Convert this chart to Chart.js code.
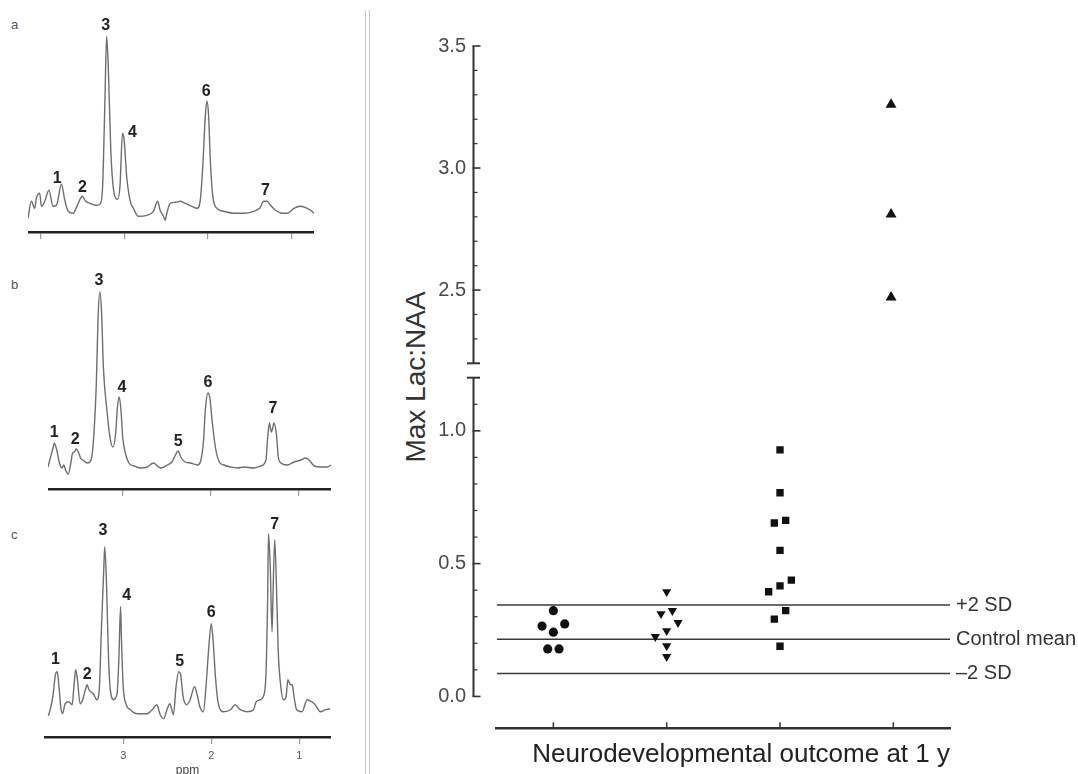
<!DOCTYPE html>
<html>
<head>
<meta charset="utf-8">
<script src="https://cdn.jsdelivr.net/npm/chart.js@4.4.1/dist/chart.umd.min.js"></script>
<style>
  body { margin: 0; background: #fff; width: 1078px; height: 774px; position: relative; overflow: hidden;
         font-family: "Liberation Sans", Arial, sans-serif; }
  canvas { position: absolute; }
  .panel { position: absolute; color: #555; font-size: 13px; line-height: 16px; }
  .divider { position: absolute; top: 10px; bottom: 0; width: 0; border-left: 1.5px solid #c6c6c6; }
  #ytitle { position: absolute; left: 266px; top: 361px; width: 300px; height: 32px; line-height: 32px;
            text-align: center; font-size: 28px; color: #333; transform: rotate(-90deg); }
</style>
</head>
<body>
<div class="panel" style="left:11px;top:17px">a</div>
<div class="panel" style="left:11px;top:277px">b</div>
<div class="panel" style="left:11px;top:527px">c</div>
<canvas id="specA" width="286" height="234" style="left:28px;top:10px"></canvas>
<canvas id="specB" width="283" height="243" style="left:48px;top:258px"></canvas>
<canvas id="specC" width="287" height="269" style="left:44px;top:505px"></canvas>
<div class="divider" style="left:365px"></div>
<div class="divider" style="left:369px"></div>
<div id="ytitle">Max Lac:NAA</div>
<canvas id="upper" width="706" height="340" style="left:372px;top:30px"></canvas>
<canvas id="lower" width="706" height="404" style="left:372px;top:370px"></canvas>
<script>
// ---- spectra (ppm, intensity in arbitrary units) ----
const specAPpm = [4.15,4.11,4.07,4.05,4.01,3.99,3.95,3.90,3.85,3.81,3.75,3.71,3.67,3.61,3.56,3.50,3.46,3.41,3.33,3.29,3.26,3.23,3.21,3.19,3.16,3.12,3.08,3.05,3.02,3.00,2.97,2.93,2.89,2.83,2.73,2.65,2.60,2.57,2.53,2.51,2.49,2.45,2.39,2.33,2.27,2.19,2.13,2.09,2.06,2.03,2.01,1.99,1.97,1.94,1.89,1.81,1.69,1.57,1.45,1.38,1.33,1.29,1.25,1.19,1.11,1.05,0.97,0.89,0.81,0.77,0.73];
const specAInt = [-5,12,5,15,20,7,12,23,7,8,29,13,2,0,8,17,12,10,8,9,23,113,177,147,63,20,14,27,80,73,37,13,5,-3,-2,2,12,3,-3,-7,0,10,11,12,10,7,5,13,47,97,112,97,53,17,5,2,0,0,2,5,12,12,8,3,0,0,5,7,5,3,0];

const specBPpm = [3.85,3.83,3.79,3.78,3.75,3.72,3.69,3.67,3.65,3.62,3.59,3.57,3.55,3.53,3.50,3.48,3.44,3.40,3.36,3.33,3.30,3.28,3.26,3.24,3.22,3.18,3.14,3.11,3.08,3.06,3.04,3.02,3.00,2.97,2.93,2.87,2.80,2.72,2.65,2.57,2.49,2.44,2.40,2.37,2.34,2.29,2.23,2.15,2.11,2.08,2.06,2.03,2.01,1.98,1.94,1.90,1.85,1.77,1.70,1.62,1.51,1.43,1.37,1.35,1.33,1.31,1.29,1.28,1.25,1.23,1.20,1.13,1.05,0.97,0.92,0.88,0.82,0.75,0.67,0.63];
const specBInt = [-2,5,18,22,15,2,-3,0,-5,-9,2,12,13,16,12,7,4,2,5,28,82,148,173,152,98,55,25,18,32,58,68,55,28,12,2,-1,-3,-2,2,-3,0,3,10,14,8,3,2,0,5,25,55,72,68,42,15,3,0,-2,-3,-2,-3,-1,5,28,42,33,38,42,30,8,2,0,3,5,7,5,-1,-2,-2,0];

const specCPpm = [3.85,3.83,3.80,3.77,3.75,3.73,3.71,3.69,3.66,3.62,3.58,3.56,3.54,3.52,3.49,3.46,3.43,3.41,3.39,3.37,3.34,3.30,3.27,3.25,3.22,3.21,3.19,3.17,3.15,3.11,3.07,3.05,3.03,3.02,3.00,2.97,2.92,2.84,2.73,2.66,2.62,2.58,2.54,2.50,2.47,2.43,2.40,2.37,2.35,2.32,2.28,2.24,2.19,2.16,2.13,2.09,2.06,2.03,2.00,1.98,1.95,1.92,1.86,1.78,1.73,1.67,1.59,1.52,1.49,1.44,1.41,1.38,1.36,1.35,1.33,1.31,1.30,1.28,1.26,1.24,1.21,1.18,1.15,1.13,1.10,1.08,1.06,1.03,0.97,0.91,0.86,0.82,0.76,0.70,0.65];
const specCInt = [-4,2,15,37,40,25,5,-2,8,10,7,25,42,32,8,12,22,27,22,20,18,12,25,78,145,165,128,62,25,12,18,52,105,72,25,8,2,-2,-2,3,7,-3,-7,3,8,-3,25,40,38,15,7,12,25,17,5,0,25,62,88,72,32,8,0,2,7,2,0,2,10,12,15,35,112,178,145,80,112,172,128,62,25,12,15,32,27,27,15,2,0,12,10,7,0,2,3];

// peak labels (ppm, intensity where the number sits)
const peakNamesA = ['1','2','3','4','6','7'];
const peakPpmA = [3.80,3.50,3.22,2.90,2.02,1.31];
const peakIntA = [35,26,188,81,122,23];
const peakNamesB = ['1','2','3','4','5','6','7'];
const peakPpmB = [3.78,3.54,3.27,3.01,2.37,2.03,1.29];
const peakIntB = [32,25,184,77,23,82,56];
const peakNamesC = ['1','2','3','4','5','6','7'];
const peakPpmC = [3.77,3.41,3.23,2.96,2.36,2.00,1.28];
const peakIntC = [52,37,181,116,50,99,187];

// ---- Lac:NAA scatter ----
const circleX = [1.0, 0.90, 1.10, 1.0, 0.95, 1.05];
const circleY = [0.323, 0.265, 0.273, 0.242, 0.179, 0.179];
const triDownX = [2.0, 1.95, 2.05, 2.10, 2.0, 1.90, 2.0, 2.0];
const triDownY = [0.394, 0.311, 0.323, 0.278, 0.247, 0.225, 0.190, 0.150];
const squareX = [3.0, 3.0, 2.95, 3.05, 3.0, 2.90, 3.0, 3.10, 3.05, 2.95, 3.0];
const squareY = [0.928, 0.767, 0.653, 0.663, 0.550, 0.394, 0.416, 0.438, 0.323, 0.291, 0.189];
const triUpX = [3.98, 3.98, 3.98];
const triUpY = [3.26, 2.81, 2.47];

const sdNames = ['+2 SD', 'Control mean', '\u20132 SD'];
const sdValues = [0.344, 0.215, 0.086];

const outcomeTicks = [1, 2, 3, 4];
const upperMajor = [2.5, 3.0, 3.5];
const upperMinor = [2.3, 2.4, 2.6, 2.7, 2.8, 2.9, 3.1, 3.2, 3.3, 3.4];
const lowerMajor = [0.0, 0.5, 1.0];
const lowerMinor = [0.1, 0.2, 0.3, 0.4, 0.6, 0.7, 0.8, 0.9, 1.1];

const FONT = '"Liberation Sans", Arial, sans-serif';

const toXY = (xs, ys) => xs.map((x, i) => ({ x: x, y: ys[i] }));

// numbers above the peaks
const peakText = {
  id: 'peakText',
  afterDatasetsDraw(chart, args, opts) {
    const { ctx } = chart;
    const x = chart.scales.x, y = chart.scales.y;
    ctx.save();
    ctx.font = 'bold 16px ' + FONT;
    ctx.fillStyle = '#222';
    ctx.textAlign = 'center';
    ctx.textBaseline = 'middle';
    opts.names.forEach((t, i) => {
      ctx.fillText(t, x.getPixelForValue(opts.ppm[i]), y.getPixelForValue(opts.inten[i]));
    });
    ctx.restore();
  }
};

function spectrum(id, ppm, inten, xMin, xMax, yMin, yMax, axisH, names, pPpm, pInt, last) {
  new Chart(document.getElementById(id), {
    type: 'line',
    data: {
      datasets: [{
        data: toXY(ppm, inten),
        borderColor: '#6e6e6e',
        borderWidth: 1.4,
        pointRadius: 0,
        cubicInterpolationMode: 'monotone',
        fill: false
      }]
    },
    options: {
      responsive: false,
      animation: false,
      layout: { padding: 0 },
      plugins: {
        legend: { display: false },
        tooltip: { enabled: false },
        peakText: { names: names, ppm: pPpm, inten: pInt }
      },
      scales: {
        x: {
          type: 'linear',
          reverse: true,
          min: xMin,
          max: xMax,
          ticks: {
            stepSize: 1,
            includeBounds: false,
            autoSkip: false,
            maxRotation: 0,
            padding: 5,
            color: '#555',
            font: { size: 11, family: FONT },
            callback: last ? (v => String(v)) : (() => '')
          },
          grid: { display: true, drawOnChartArea: false, drawTicks: true, tickLength: 7, color: '#9a9a9a', lineWidth: 1.2 },
          border: { display: true, color: '#222', width: 2.5 },
          title: {
            display: last,
            text: 'ppm',
            color: '#444',
            font: { size: 12, family: FONT, lineHeight: 0.6 },
            padding: { top: 0, bottom: 0 }
          },
          afterFit(s) { s.height = axisH; }
        },
        y: { display: false, min: yMin, max: yMax }
      }
    },
    plugins: [peakText]
  });
}

spectrum('specA', specAPpm, specAInt, 0.73, 4.15, -18.7, 203.3, 12, peakNamesA, peakPpmA, peakIntA, false);
spectrum('specB', specBPpm, specBInt, 0.63, 3.85, -24, 207, 12, peakNamesB, peakPpmB, peakIntB, false);
spectrum('specC', specCPpm, specCInt, 0.64, 3.90, -25.3, 206.7, 37, peakNamesC, peakPpmC, peakIntC, true);

// y axis drawn a little left of the plot, with inward ticks and a break cap
const brokenAxis = {
  id: 'brokenAxis',
  afterDraw(chart, args, opts) {
    const { ctx, chartArea } = chart;
    const y = chart.scales.y;
    const ax = chartArea.left - opts.gap;
    ctx.save();
    ctx.strokeStyle = '#333';
    ctx.lineWidth = 2;
    ctx.beginPath();
    ctx.moveTo(ax, y.getPixelForValue(opts.from));
    ctx.lineTo(ax, y.getPixelForValue(opts.to));
    ctx.stroke();
    ctx.lineWidth = 1.6;
    opts.major.forEach(v => {
      const p = y.getPixelForValue(v);
      ctx.beginPath(); ctx.moveTo(ax - 1, p); ctx.lineTo(ax + 7, p); ctx.stroke();
    });
    ctx.lineWidth = 1.2;
    opts.minor.forEach(v => {
      const p = y.getPixelForValue(v);
      ctx.beginPath(); ctx.moveTo(ax, p); ctx.lineTo(ax + 4, p); ctx.stroke();
    });
    ctx.lineWidth = 2;
    const c = y.getPixelForValue(opts.cap);
    ctx.beginPath(); ctx.moveTo(ax - 6.5, c); ctx.lineTo(ax + 6.5, c); ctx.stroke();
    ctx.restore();
  }
};

// control reference labels and the category tick marks
const sdText = {
  id: 'sdText',
  afterDraw(chart, args, opts) {
    const { ctx, chartArea } = chart;
    const x = chart.scales.x, y = chart.scales.y;
    ctx.save();
    ctx.font = '20px ' + FONT;
    ctx.fillStyle = '#333';
    ctx.textAlign = 'left';
    ctx.textBaseline = 'middle';
    sdNames.forEach((t, i) => ctx.fillText(t, chartArea.right + 6, y.getPixelForValue(sdValues[i])));
    ctx.strokeStyle = '#333';
    ctx.lineWidth = 1.5;
    outcomeTicks.forEach(v => {
      const p = x.getPixelForValue(v);
      ctx.beginPath(); ctx.moveTo(p, chartArea.bottom); ctx.lineTo(p, chartArea.bottom - 6); ctx.stroke();
    });
    ctx.restore();
  }
};

const yTicks = () => ({
  padding: 22.7,
  color: '#4a4a4a',
  font: { size: 20, family: FONT },
  callback: v => Number(v).toFixed(1)
});

// the label padding must not shrink the plot vertically
const fitY = s => { s.width = 124.7; s.paddingTop = 0; s.paddingBottom = 0; };

const markerSet = (xs, ys, style, r, rot) => ({
  data: toXY(xs, ys),
  pointStyle: style,
  pointRadius: r,
  rotation: rot || 0,
  backgroundColor: '#111',
  borderColor: '#111',
  borderWidth: 0
});

const sdLine = v => ({
  data: [{ x: 0.5, y: v }, { x: 4.5, y: v }],
  showLine: true,
  borderColor: '#3a3a3a',
  borderWidth: 1.5,
  pointRadius: 0
});

new Chart(document.getElementById('upper'), {
  type: 'scatter',
  data: { datasets: [markerSet(triUpX, triUpY, 'triangle', 6.3)] },
  options: {
    responsive: false,
    animation: false,
    layout: { padding: { top: 16, right: 128, bottom: 6.7, left: 0 } },
    plugins: {
      legend: { display: false },
      tooltip: { enabled: false },
      brokenAxis: { gap: 23.2, from: 2.2, to: 3.5, major: upperMajor, minor: upperMinor, cap: 2.2 }
    },
    scales: {
      x: { type: 'linear', display: false, min: 0.5, max: 4.5 },
      y: {
        min: 2.2, max: 3.5,
        grid: { display: false },
        border: { display: false },
        ticks: yTicks(),
        afterBuildTicks(s) { s.ticks = upperMajor.map(v => ({ value: v })); },
        afterFit: fitY
      }
    }
  },
  plugins: [brokenAxis]
});

new Chart(document.getElementById('lower'), {
  type: 'scatter',
  data: {
    datasets: [
      markerSet(circleX, circleY, 'circle', 4.6),
      markerSet(triDownX, triDownY, 'triangle', 5.3, 180),
      markerSet(squareX, squareY, 'rect', 5.2),
      sdLine(sdValues[0]),
      sdLine(sdValues[1]),
      sdLine(sdValues[2])
    ]
  },
  options: {
    responsive: false,
    animation: false,
    layout: { padding: { top: 7.7, right: 128, bottom: 0, left: 0 } },
    plugins: {
      legend: { display: false },
      tooltip: { enabled: false },
      brokenAxis: { gap: 23.2, from: 0, to: 1.2, major: lowerMajor, minor: lowerMinor, cap: 1.2 },
      sdText: {}
    },
    scales: {
      x: {
        type: 'linear', min: 0.5, max: 4.5,
        grid: { display: false },
        border: { display: true, color: '#333', width: 2.5 },
        ticks: { display: false },
        title: {
          display: true,
          text: 'Neurodevelopmental outcome at 1 y',
          align: 'end',
          color: '#222',
          font: { size: 26, family: FONT },
          padding: { top: 0, bottom: 3.4 }
        },
        afterFit(s) { s.height = 45.7; }
      },
      y: {
        min: -0.12, max: 1.2,
        grid: { display: false },
        border: { display: false },
        ticks: yTicks(),
        afterBuildTicks(s) { s.ticks = lowerMajor.map(v => ({ value: v })); },
        afterFit: fitY
      }
    }
  },
  plugins: [brokenAxis, sdText]
});
</script>
</body>
</html>
